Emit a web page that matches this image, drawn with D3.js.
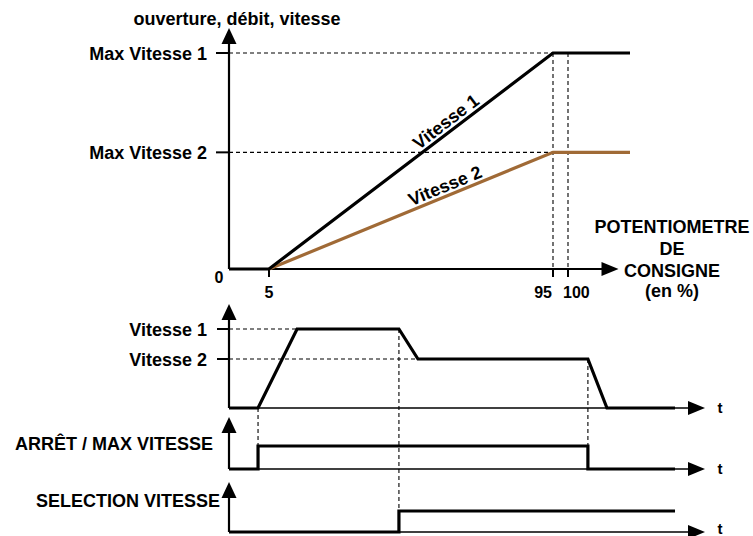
<!DOCTYPE html>
<html>
<head>
<meta charset="utf-8">
<script src="https://cdn.jsdelivr.net/npm/d3@7"></script>
<style>
  html, body { margin: 0; padding: 0; background: #fff; }
  svg { display: block; }
  text { font-family: "Liberation Sans", Arial, sans-serif; font-weight: bold; fill: #000; }
</style>
</head>
<body>
<svg id="chart" width="753" height="536"></svg>
<script>
// ---------- DATA ----------
// Top chart: speed vs setpoint potentiometer (%)
const potPct      = [0, 5, 95, 120];
const vitesse1    = [0, 0, 100, 100];
const vitesse2    = [0, 0, 54, 54];
const potTicks    = [5, 95, 100];
const yTickValues = [100, 54];
const yTickLabels = ["Max Vitesse 1", "Max Vitesse 2"];
const topYTitle   = "ouverture, débit, vitesse";
const topXTitle   = ["POTENTIOMETRE", "DE", "CONSIGNE", "(en %)"];
const seriesNames = ["Vitesse 1", "Vitesse 2"];

// Bottom timing charts (time in arbitrary units)
const speedTime   = [0, 6.1, 14.3, 35.7, 39.7, 75.4, 79.4, 93.7];
const speedVal    = [0, 0, 100, 100, 62, 62, 0, 0];
const speedLevels = [100, 62];
const speedLabels = ["Vitesse 1", "Vitesse 2"];
const arretTime   = [0, 6.1, 6.1, 75.4, 75.4, 93.7];
const arretVal    = [0, 0, 1, 1, 0, 0];
const selTime     = [0, 35.7, 35.7, 93.7];
const selVal      = [0, 0, 1, 1];
const arretLabel  = "ARRÊT / MAX VITESSE";
const selLabel    = "SELECTION VITESSE";
const timeLabel   = "t";

// ---------- SETUP ----------
const svg = d3.select("#chart");
const BROWN = "#a06a36";
const TH = 3.2;

function arrowUp(x, yTip) {
  svg.append("path").attr("d", `M${x},${yTip} L${x-7.5},${yTip+16} L${x+7.5},${yTip+16} Z`).attr("fill", "#000");
}
function arrowRight(xTip, y) {
  svg.append("path").attr("d", `M${xTip},${y} L${xTip-17},${y-7} L${xTip-17},${y+7} Z`).attr("fill", "#000");
}
function dashed(x1, y1, x2, y2) {
  svg.append("line").attr("x1", x1).attr("y1", y1).attr("x2", x2).attr("y2", y2)
    .attr("stroke", "#000").attr("stroke-width", 1.1).attr("stroke-dasharray", "4,3");
}

// ---------- TOP CHART ----------
const xTop = d3.scaleLinear().domain([0, 5, 95, 100, 120]).range([229, 269, 553, 568, 630]);
const yTop = d3.scaleLinear().domain([0, 100]).range([269, 53]);
const xAxisEnd = 116.3;   // arrow tip (in %)
const yAxisEnd = 111.6;   // arrow tip (in value)

// guide dashed lines
yTickValues.forEach(v => dashed(xTop(0), yTop(v), xTop(95), yTop(v)));
dashed(xTop(95), yTop(100), xTop(95), yTop(0));
dashed(xTop(100), yTop(100), xTop(100), yTop(0));

// axes
svg.append("line").attr("x1", xTop(0)).attr("y1", yTop(0)).attr("x2", xTop(0)).attr("y2", yTop(yAxisEnd) + 10)
  .attr("stroke", "#000").attr("stroke-width", 2.2);
arrowUp(xTop(0), yTop(yAxisEnd));
svg.append("line").attr("x1", xTop(0)).attr("y1", yTop(0)).attr("x2", xTop(xAxisEnd) - 10).attr("y2", yTop(0))
  .attr("stroke", "#000").attr("stroke-width", 2.2);
arrowRight(xTop(xAxisEnd), yTop(0));

// y ticks
yTickValues.forEach((v, i) => {
  svg.append("line").attr("x1", xTop(0) - 13).attr("x2", xTop(0)).attr("y1", yTop(v)).attr("y2", yTop(v))
    .attr("stroke", "#000").attr("stroke-width", 2);
  svg.append("text").attr("x", xTop(0) - 22).attr("y", yTop(v) + 6.5)
    .attr("text-anchor", "end").attr("font-size", 18).text(yTickLabels[i]);
});
svg.append("text").attr("x", xTop(0) - 10).attr("y", yTop(0) + 14)
  .attr("text-anchor", "middle").attr("font-size", 16).text("0");

// x ticks
potTicks.forEach(p => {
  svg.append("line").attr("x1", xTop(p)).attr("x2", xTop(p)).attr("y1", yTop(0)).attr("y2", yTop(0) + 8)
    .attr("stroke", "#000").attr("stroke-width", 2);
});
svg.append("text").attr("x", xTop(5)).attr("y", yTop(0) + 29).attr("text-anchor", "middle").attr("font-size", 16).text(potTicks[0]);
svg.append("text").attr("x", xTop(95) - 1).attr("y", yTop(0) + 29).attr("text-anchor", "end").attr("font-size", 16).text(potTicks[1]);
svg.append("text").attr("x", xTop(100) - 5).attr("y", yTop(0) + 29).attr("text-anchor", "start").attr("font-size", 16).text(potTicks[2]);

// titles
svg.append("text").attr("x", 237).attr("y", 25).attr("text-anchor", "middle").attr("font-size", 18).text(topYTitle);
const xt = svg.append("text").attr("text-anchor", "middle").attr("font-size", 18);
[233, 255, 277, 297].forEach((y, i) => xt.append("tspan").attr("x", 672).attr("y", y).text(topXTitle[i]));

// series lines
const lineTop = d3.line().x(d => xTop(d[0])).y(d => yTop(d[1]));
const s2 = potPct.map((p, i) => [p, vitesse2[i]]).slice(1);
svg.append("path").attr("d", lineTop(s2)).attr("fill", "none").attr("stroke", BROWN).attr("stroke-width", TH);
const s1 = potPct.map((p, i) => [p, vitesse1[i]]);
svg.append("path").attr("d", lineTop(s1)).attr("fill", "none").attr("stroke", "#000").attr("stroke-width", TH)
  .attr("stroke-linejoin", "miter");

// rotated series labels
function seriesLabel(name, vals, at) {
  const x = xTop(at);
  const slope = (yTop(vals[2]) - yTop(vals[1])) / (xTop(95) - xTop(5));
  const y = yTop(vals[1]) + slope * (x - xTop(5));
  const ang = Math.atan(slope) * 180 / Math.PI;
  svg.append("text").attr("transform", `translate(${x},${y}) rotate(${ang})`)
    .attr("y", -4).attr("text-anchor", "middle").attr("font-size", 18).text(name);
}
seriesLabel(seriesNames[0], vitesse1, 63);
seriesLabel(seriesNames[1], vitesse2, 62);

// ---------- BOTTOM TIMING CHARTS ----------
const xT = d3.scaleLinear().domain([0, 100]).range([229, 705]);
const yA = d3.scaleLinear().domain([0, 100]).range([408, 329]);
const yB = d3.scaleLinear().domain([0, 1]).range([469, 446]);
const yC = d3.scaleLinear().domain([0, 1]).range([532, 511]);

function timeAxes(yS, tipVal) {
  const y0 = yS(0);
  svg.append("line").attr("x1", xT(0)).attr("y1", y0).attr("x2", xT(0)).attr("y2", yS(tipVal) + 10)
    .attr("stroke", "#000").attr("stroke-width", 2.2);
  arrowUp(xT(0), yS(tipVal));
  svg.append("line").attr("x1", xT(0)).attr("y1", y0).attr("x2", xT(100) - 10).attr("y2", y0)
    .attr("stroke", "#000").attr("stroke-width", 1.6);
  arrowRight(xT(100), y0);
  svg.append("text").attr("x", xT(100) + 15).attr("y", Math.min(y0 + 5, 534)).attr("text-anchor", "middle")
    .attr("font-size", 15).text(timeLabel);
}

// dashed guides
speedLevels.forEach((v, i) => {
  const tEnd = i === 0 ? speedTime[2] : speedTime[4];
  dashed(xT(0), yA(v), xT(tEnd), yA(v));
});
dashed(xT(arretTime[1]), yA(0), xT(arretTime[1]), yB(1));
dashed(xT(speedTime[3]), yA(100), xT(speedTime[3]), yC(1));
dashed(xT(speedTime[5]), yA(62), xT(speedTime[5]), yB(1));

timeAxes(yA, 131.6);
timeAxes(yB, 2.26);
timeAxes(yC, 2.38);

// y labels for speed chart
speedLevels.forEach((v, i) => {
  svg.append("line").attr("x1", xT(0) - 12).attr("x2", xT(0)).attr("y1", yA(v)).attr("y2", yA(v))
    .attr("stroke", "#000").attr("stroke-width", 2);
  svg.append("text").attr("x", xT(0) - 22).attr("y", yA(v) + 6.5).attr("text-anchor", "end")
    .attr("font-size", 18).text(speedLabels[i]);
});
svg.append("text").attr("x", 213).attr("y", 450).attr("text-anchor", "end").attr("font-size", 18).text(arretLabel);
svg.append("text").attr("x", 220).attr("y", 507).attr("text-anchor", "end").attr("font-size", 18).text(selLabel);

// traces
function trace(times, vals, yS) {
  const ln = d3.line().x(d => xT(d[0])).y(d => yS(d[1]));
  svg.append("path").attr("d", ln(times.map((t, i) => [t, vals[i]])))
    .attr("fill", "none").attr("stroke", "#000").attr("stroke-width", TH).attr("stroke-linejoin", "miter");
}
trace(speedTime, speedVal, yA);
trace(arretTime, arretVal, yB);
trace(selTime, selVal, yC);
</script>
</body>
</html>
